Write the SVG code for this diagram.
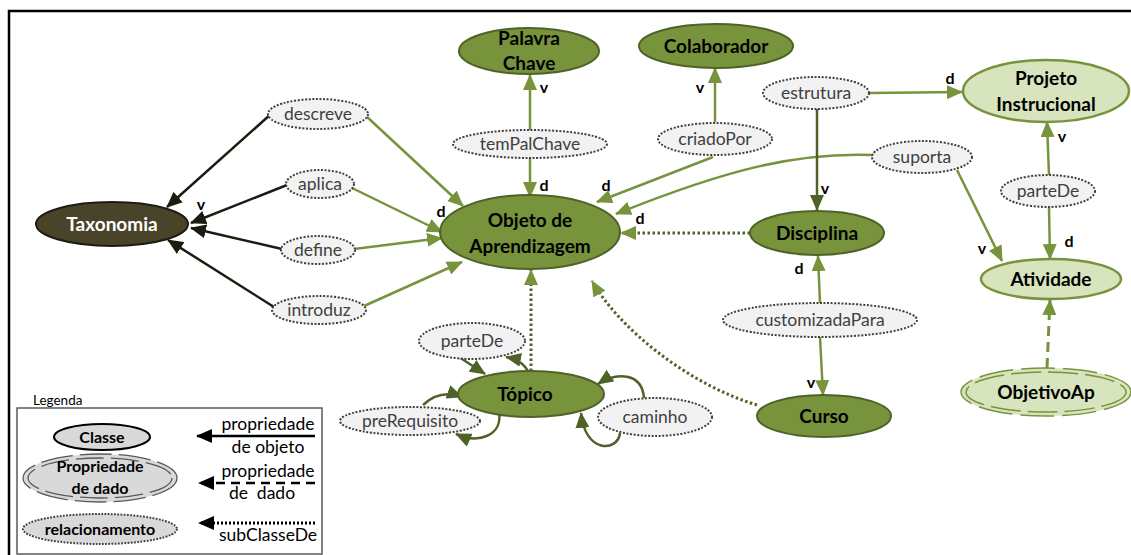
<svg xmlns="http://www.w3.org/2000/svg" width="1131" height="555" viewBox="0 0 1131 555">
  <style>
    text { font-family: Lato, "Open Sans", "Liberation Sans", sans-serif; text-anchor: middle; }
    .cls { fill: #77933c; stroke: #4f6228; stroke-width: 2; }
    .cls-lt { fill: #d7e4bd; stroke: #77933c; stroke-width: 2.5; }
    .tax { fill: #494429; stroke: #1d1b10; stroke-width: 2; }
    .rel { fill: #f2f2f2; stroke: #404040; stroke-width: 2; stroke-dasharray: 2 1.6; }
    .lbl { font-size: 19px; font-weight: bold; fill: #000; }
    .rlbl { font-size: 17.5px; fill: #404040; }
    .mk { font-size: 16px; font-weight: bold; fill: #000; }
    .eg { fill: none; stroke: #77933c; stroke-width: 2.5; }
    .eg-dk { fill: none; stroke: #4f6228; stroke-width: 2.5; }
    .ek { fill: none; stroke: #1d1b10; stroke-width: 2.5; }
    .sub { fill: none; stroke: #4f6228; stroke-width: 3; stroke-dasharray: 2.5 2.5; }
    .dash { fill: none; stroke: #77933c; stroke-width: 3; stroke-dasharray: 10 6; }
    .lg { font-size: 17.5px; fill: #000; }
    .lgb { font-size: 16px; font-weight: bold; fill: #000; }
  </style>
  <defs>
    <marker id="aG" markerUnits="userSpaceOnUse" markerWidth="16" markerHeight="14" refX="15" refY="7" orient="auto">
      <path d="M0,0 L16,7 L0,14 z" fill="#77933c"/>
    </marker>
    <marker id="aD" markerUnits="userSpaceOnUse" markerWidth="16" markerHeight="14" refX="15" refY="7" orient="auto">
      <path d="M0,0 L16,7 L0,14 z" fill="#4f6228"/>
    </marker>
    <marker id="aK" markerUnits="userSpaceOnUse" markerWidth="16" markerHeight="14" refX="15" refY="7" orient="auto">
      <path d="M0,0 L16,7 L0,14 z" fill="#1d1b10"/>
    </marker>
    <marker id="aB" markerUnits="userSpaceOnUse" markerWidth="16" markerHeight="14" refX="15" refY="7" orient="auto">
      <path d="M0,0 L16,7 L0,14 z" fill="#000"/>
    </marker>
  </defs>

  <rect width="1131" height="555" fill="#fff"/>
  <!-- frame -->
  <path d="M9,555 V11 H1131" fill="none" stroke="#000" stroke-width="2.5"/>

  <!-- connectors -->
  <g id="connectors">
    <!-- relations to Taxonomia -->
    <line class="ek" x1="271" y1="114" x2="167" y2="207" marker-end="url(#aK)"/>
    <line class="ek" x1="287" y1="185" x2="191" y2="223" marker-end="url(#aK)"/>
    <line class="ek" x1="282" y1="249" x2="191" y2="228" marker-end="url(#aK)"/>
    <line class="ek" x1="274" y1="307" x2="168" y2="240" marker-end="url(#aK)"/>
    <!-- relations to Objeto de Aprendizagem -->
    <line class="eg" x1="366" y1="116" x2="463" y2="206" marker-end="url(#aG)"/>
    <line class="eg" x1="352" y1="188" x2="442" y2="232" marker-end="url(#aG)"/>
    <line class="eg" x1="354" y1="249" x2="442" y2="238" marker-end="url(#aG)"/>
    <line class="eg" x1="364" y1="306" x2="462" y2="262" marker-end="url(#aG)"/>
    <line class="eg" x1="530" y1="131" x2="530" y2="75" marker-end="url(#aG)"/>
    <line class="eg" x1="530" y1="157" x2="530" y2="197" marker-end="url(#aG)"/>
    <line class="eg" x1="715" y1="122" x2="715" y2="68" marker-end="url(#aG)"/>
    <line class="eg" x1="713" y1="157" x2="597" y2="202" marker-end="url(#aG)"/>
    <path class="eg" d="M873,155 C800,152 730,168 616,214" marker-end="url(#aG)"/>
    <line class="eg" x1="957" y1="170" x2="1002" y2="261" marker-end="url(#aG)"/>
    <line class="eg" x1="869" y1="93" x2="962" y2="92" marker-end="url(#aG)"/>
    <line class="eg-dk" x1="817" y1="109" x2="817" y2="210" marker-end="url(#aD)"/>
    <line class="sub" x1="750" y1="233" x2="621" y2="233" marker-end="url(#aG)"/>
    <line class="eg" x1="1049" y1="175" x2="1047" y2="122" marker-end="url(#aG)"/>
    <line class="eg" x1="1049" y1="207" x2="1050" y2="259" marker-end="url(#aG)"/>
    <line class="eg" x1="820" y1="303" x2="818" y2="256" marker-end="url(#aG)"/>
    <line class="eg" x1="820" y1="337" x2="823" y2="395" marker-end="url(#aG)"/>
    <path class="sub" d="M757,405 C690,385 620,330 592,281" marker-end="url(#aG)"/>
    <line class="sub" x1="531" y1="371" x2="531" y2="270" marker-end="url(#aG)"/>
    <line class="dash" x1="1047" y1="368" x2="1050" y2="300" marker-end="url(#aG)"/>
    <!-- Tópico self relations -->
    <line class="eg-dk" x1="459" y1="357" x2="485" y2="374" marker-end="url(#aD)"/>
    <path class="eg-dk" d="M528,371 Q522,360 506,357" marker-end="url(#aD)"/>
    <path class="eg-dk" d="M423,405 Q440,389 462,397" marker-end="url(#aD)"/>
    <path class="eg-dk" d="M499,412 C503,436 478,444 456,434" marker-end="url(#aD)"/>
    <path class="eg-dk" d="M644,398 C642,372 616,372 598,384" marker-end="url(#aD)"/>
    <path class="eg-dk" d="M620,433 C618,452 585,454 581,413" marker-end="url(#aD)"/>
  </g>

  <!-- edge markers d / v -->
  <g id="edge-marks">
    <text class="mk" x="201" y="210">v</text>
    <text class="mk" x="441" y="217">d</text>
    <text class="mk" x="544" y="93">v</text>
    <text class="mk" x="544" y="191">d</text>
    <text class="mk" x="606" y="191">d</text>
    <text class="mk" x="700" y="93">v</text>
    <text class="mk" x="640" y="224">d</text>
    <text class="mk" x="950" y="84">d</text>
    <text class="mk" x="825" y="194">v</text>
    <text class="mk" x="1062" y="142">v</text>
    <text class="mk" x="1069" y="247">d</text>
    <text class="mk" x="982" y="254">v</text>
    <text class="mk" x="799" y="274">d</text>
    <text class="mk" x="811" y="388">v</text>
  </g>

  <!-- class nodes -->
  <g id="taxonomia">
    <ellipse class="tax" cx="112" cy="224" rx="76" ry="22"/>
    <text class="lbl" x="112" y="231" style="fill:#fff">Taxonomia</text>
  </g>
  <g id="objeto">
    <ellipse class="cls" cx="530" cy="232" rx="90" ry="37"/>
    <text class="lbl" x="530" y="227">Objeto de</text>
    <text class="lbl" x="530" y="253">Aprendizagem</text>
  </g>
  <g id="palavra-chave">
    <ellipse class="cls" cx="529" cy="51" rx="70" ry="23"/>
    <text class="lbl" x="529" y="45">Palavra</text>
    <text class="lbl" x="529" y="70">Chave</text>
  </g>
  <g id="colaborador">
    <ellipse class="cls" cx="716" cy="46" rx="77" ry="22"/>
    <text class="lbl" x="716" y="53">Colaborador</text>
  </g>
  <g id="projeto">
    <ellipse class="cls-lt" cx="1046" cy="91" rx="83" ry="31"/>
    <text class="lbl" x="1046" y="85">Projeto</text>
    <text class="lbl" x="1046" y="111">Instrucional</text>
  </g>
  <g id="disciplina">
    <ellipse class="cls" cx="817" cy="233" rx="67" ry="22"/>
    <text class="lbl" x="817" y="240">Disciplina</text>
  </g>
  <g id="atividade">
    <ellipse class="cls-lt" cx="1051" cy="279" rx="70" ry="20"/>
    <text class="lbl" x="1051" y="286">Atividade</text>
  </g>
  <g id="curso">
    <ellipse class="cls" cx="824" cy="416" rx="67" ry="21"/>
    <text class="lbl" x="824" y="423">Curso</text>
  </g>
  <g id="topico">
    <ellipse class="cls" cx="531" cy="394" rx="73" ry="23"/>
    <text class="lbl" x="525" y="401">Tópico</text>
  </g>
  <g id="objetivo-ap">
    <ellipse cx="1046" cy="392" rx="85" ry="24" fill="#d7e4bd" stroke="#77933c" stroke-width="1.5" stroke-dasharray="34 8"/>
    <ellipse cx="1046" cy="392" rx="80" ry="20" fill="none" stroke="#77933c" stroke-width="1.5" stroke-dasharray="30 7"/>
    <text class="lbl" x="1046" y="399">ObjetivoAp</text>
  </g>

  <!-- relationship nodes -->
  <g id="descreve">
    <ellipse class="rel" cx="318" cy="114" rx="50" ry="15"/>
    <text class="rlbl" x="318" y="120">descreve</text>
  </g>
  <g id="aplica">
    <ellipse class="rel" cx="320" cy="184" rx="34" ry="14"/>
    <text class="rlbl" x="320" y="190">aplica</text>
  </g>
  <g id="define">
    <ellipse class="rel" cx="318" cy="250" rx="37" ry="14"/>
    <text class="rlbl" x="318" y="256">define</text>
  </g>
  <g id="introduz">
    <ellipse class="rel" cx="319" cy="310" rx="47" ry="14"/>
    <text class="rlbl" x="319" y="316">introduz</text>
  </g>
  <g id="tem-pal-chave">
    <ellipse class="rel" cx="530" cy="144" rx="77" ry="14"/>
    <text class="rlbl" x="530" y="150">temPalChave</text>
  </g>
  <g id="criado-por">
    <ellipse class="rel" cx="715" cy="139" rx="57" ry="16"/>
    <text class="rlbl" x="715" y="145">criadoPor</text>
  </g>
  <g id="estrutura">
    <ellipse class="rel" cx="816" cy="93" rx="53" ry="16"/>
    <text class="rlbl" x="816" y="99">estrutura</text>
  </g>
  <g id="suporta">
    <ellipse class="rel" cx="922" cy="157" rx="50" ry="16"/>
    <text class="rlbl" x="922" y="163">suporta</text>
  </g>
  <g id="parte-de-atividade">
    <ellipse class="rel" cx="1048" cy="191" rx="47" ry="16"/>
    <text class="rlbl" x="1048" y="197">parteDe</text>
  </g>
  <g id="customizada-para">
    <ellipse class="rel" cx="820" cy="320" rx="97" ry="17"/>
    <text class="rlbl" x="820" y="326">customizadaPara</text>
  </g>
  <g id="parte-de-topico">
    <ellipse class="rel" cx="472" cy="341" rx="53" ry="18"/>
    <text class="rlbl" x="472" y="347">parteDe</text>
  </g>
  <g id="pre-requisito">
    <ellipse class="rel" cx="410" cy="421" rx="70" ry="14"/>
    <text class="rlbl" x="410" y="427">preRequisito</text>
  </g>
  <g id="caminho">
    <ellipse class="rel" cx="655" cy="417" rx="57" ry="19"/>
    <text class="rlbl" x="655" y="423">caminho</text>
  </g>

  <!-- legend -->
  <g id="legenda">
    <text x="33" y="405" style="font-size:13.5px;text-anchor:start">Legenda</text>
    <rect x="17" y="408" width="305" height="146" fill="#fff" stroke="#595959" stroke-width="1.5"/>
    <ellipse cx="102" cy="437" rx="48" ry="13" fill="#d9d9d9" stroke="#000" stroke-width="2"/>
    <text class="lgb" x="102" y="443">Classe</text>
    <ellipse cx="100" cy="478" rx="77" ry="24" fill="#d9d9d9" stroke="#595959" stroke-width="1.3" stroke-dasharray="32 7"/>
    <ellipse cx="100" cy="478" rx="72" ry="20" fill="none" stroke="#595959" stroke-width="1.3" stroke-dasharray="28 7"/>
    <text class="lgb" x="100" y="472">Propriedade</text>
    <text class="lgb" x="100" y="494">de dado</text>
    <ellipse cx="100" cy="529" rx="77" ry="15" fill="#d9d9d9" stroke="#404040" stroke-width="2" stroke-dasharray="1.8 1.4"/>
    <text class="lgb" x="100" y="535">relacionamento</text>
    <line x1="315" y1="436" x2="197" y2="436" stroke="#000" stroke-width="2.5" marker-end="url(#aB)"/>
    <text class="lg" x="268" y="430">propriedade</text>
    <text class="lg" x="268" y="453">de objeto</text>
    <line x1="315" y1="483" x2="199" y2="483" stroke="#000" stroke-width="2.5" stroke-dasharray="9 6" marker-end="url(#aB)"/>
    <text class="lg" x="268" y="477">propriedade</text>
    <text class="lg" x="262" y="499" xml:space="preserve">de  dado</text>
    <line x1="315" y1="523" x2="199" y2="523" stroke="#000" stroke-width="3" stroke-dasharray="2 2" marker-end="url(#aB)"/>
    <text class="lg" x="268" y="541">subClasseDe</text>
  </g>
</svg>
